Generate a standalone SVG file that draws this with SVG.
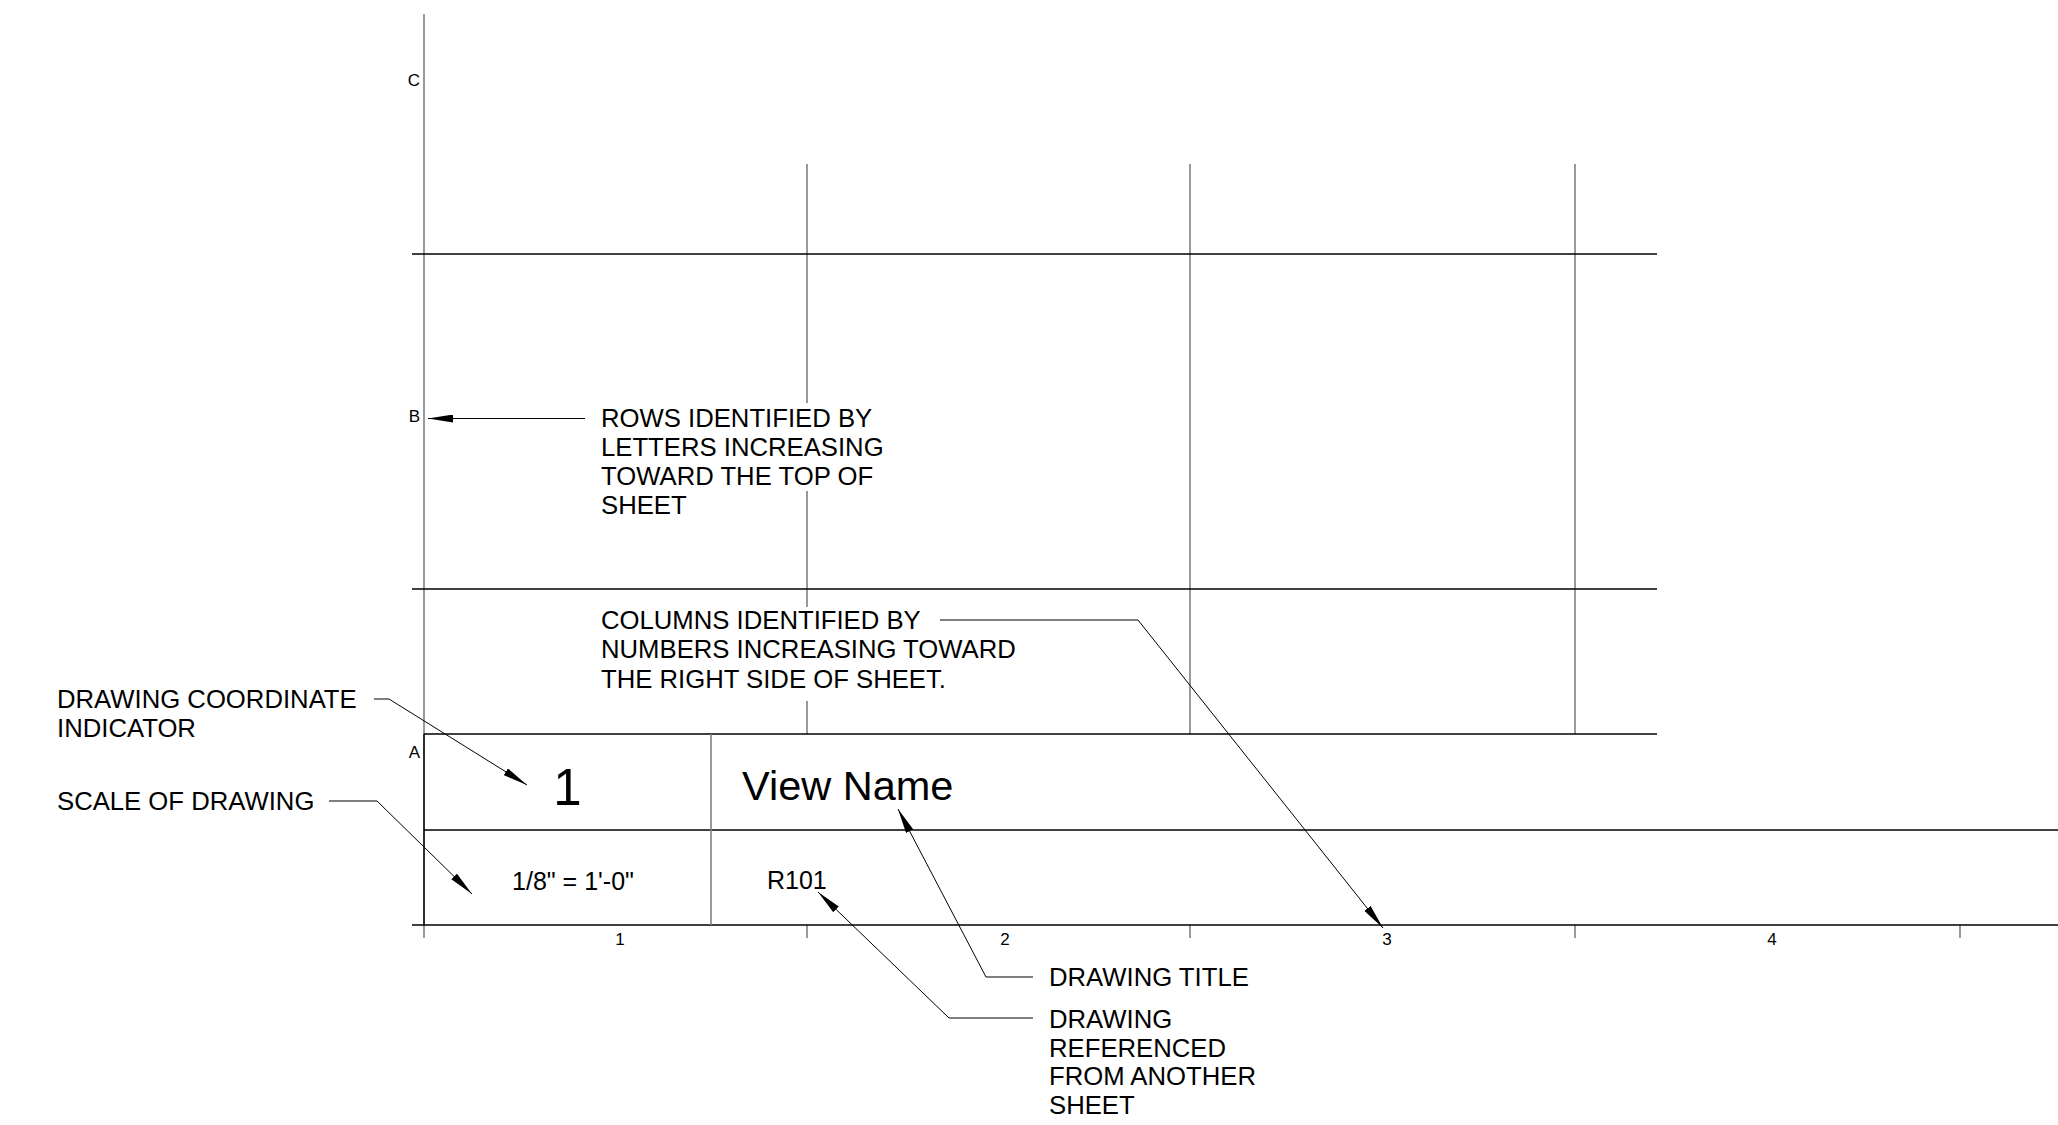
<svg xmlns="http://www.w3.org/2000/svg" width="2058" height="1125" viewBox="0 0 2058 1125">
  <style>
    text { font-family: "Liberation Sans", Arial, sans-serif; fill: #000; }
    .note { font-size: 25.7px; }
    .cell { font-size: 25px; }
    .axis { font-size: 17px; }
    .grid { stroke: #808080; stroke-width: 1.6; fill: none; }
    .line { stroke: #000; stroke-width: 1.4; fill: none; }
    .leader { stroke: #000; stroke-width: 1; fill: none; }
  </style>
  <defs>
    <marker id="arrow" markerUnits="userSpaceOnUse" viewBox="0 0 25 8" refX="25" refY="4" markerWidth="25" markerHeight="8" orient="auto">
      <path d="M0,0 L25,4 L0,8 Z" fill="#000"/>
    </marker>
  </defs>
  <rect x="0" y="0" width="2058" height="1125" fill="#fff"/>

  <g id="grid">
    <line class="grid" x1="424" y1="14" x2="424" y2="938"/>
    <line class="grid" x1="807" y1="164" x2="807" y2="403"/>
    <line class="grid" x1="807" y1="491" x2="807" y2="607"/>
    <line class="grid" x1="807" y1="701" x2="807" y2="734"/>
    <line class="grid" x1="1190" y1="164" x2="1190" y2="734"/>
    <line class="grid" x1="1575" y1="164" x2="1575" y2="734"/>
    <line class="grid" x1="807" y1="925" x2="807" y2="938"/>
    <line class="grid" x1="1190" y1="925" x2="1190" y2="938"/>
    <line class="grid" x1="1575" y1="925" x2="1575" y2="938"/>
    <line class="grid" x1="1960" y1="925" x2="1960" y2="938"/>
    <line class="line" x1="412" y1="254" x2="1657" y2="254"/>
    <line class="line" x1="412" y1="589" x2="1657" y2="589"/>
    <line class="line" x1="412" y1="925" x2="2058" y2="925"/>
    <text class="axis" x="420" y="86" text-anchor="end">C</text>
    <text class="axis" x="420" y="422" text-anchor="end">B</text>
    <text class="axis" x="420" y="758" text-anchor="end">A</text>
    <text class="axis" x="620" y="945" text-anchor="middle">1</text>
    <text class="axis" x="1005" y="945" text-anchor="middle">2</text>
    <text class="axis" x="1387" y="945" text-anchor="middle">3</text>
    <text class="axis" x="1772" y="945" text-anchor="middle">4</text>
  </g>

  <g id="title-block">
    <line class="line" x1="424" y1="734" x2="1657" y2="734"/>
    <line class="line" x1="424" y1="830" x2="2058" y2="830"/>
    <line class="line" x1="424" y1="734" x2="424" y2="925"/>
    <line class="grid" x1="711" y1="734" x2="711" y2="925"/>
    <text x="567.5" y="805" font-size="51" text-anchor="middle">1</text>
    <text class="cell" x="573" y="890" text-anchor="middle">1/8" = 1'-0"</text>
    <text x="742" y="800" font-size="41.5">View Name</text>
    <text class="cell" x="767" y="889">R101</text>
  </g>

  <g id="note-rows">
    <text class="note" x="601" y="427">ROWS IDENTIFIED BY</text>
    <text class="note" x="601" y="456">LETTERS INCREASING</text>
    <text class="note" x="601" y="485">TOWARD THE TOP OF</text>
    <text class="note" x="601" y="514">SHEET</text>
  </g>
  <g id="note-columns">
    <text class="note" x="601" y="629">COLUMNS IDENTIFIED BY</text>
    <text class="note" x="601" y="658">NUMBERS INCREASING TOWARD</text>
    <text class="note" x="601" y="688">THE RIGHT SIDE OF SHEET.</text>
  </g>
  <g id="note-coordinate">
    <text class="note" x="57" y="708">DRAWING COORDINATE</text>
    <text class="note" x="57" y="737">INDICATOR</text>
  </g>
  <g id="note-scale">
    <text class="note" x="57" y="810">SCALE OF DRAWING</text>
  </g>
  <g id="note-title">
    <text class="note" x="1049" y="986">DRAWING TITLE</text>
  </g>
  <g id="note-referenced">
    <text class="note" x="1049" y="1028">DRAWING</text>
    <text class="note" x="1049" y="1057">REFERENCED</text>
    <text class="note" x="1049" y="1085">FROM ANOTHER</text>
    <text class="note" x="1049" y="1114">SHEET</text>
  </g>

  <g id="connectors">
    <polyline class="leader" points="585,418.5 428,418.5" marker-end="url(#arrow)"/>
    <polyline class="leader" points="940,620 1138,620 1383,928" marker-end="url(#arrow)"/>
    <polyline class="leader" points="374,699 389,699 527,785" marker-end="url(#arrow)"/>
    <polyline class="leader" points="329,801 377,801 472,894" marker-end="url(#arrow)"/>
    <polyline class="leader" points="1033,977 986,977 898,809" marker-end="url(#arrow)"/>
    <polyline class="leader" points="1033,1018 949,1018 818,892" marker-end="url(#arrow)"/>
  </g>
</svg>
